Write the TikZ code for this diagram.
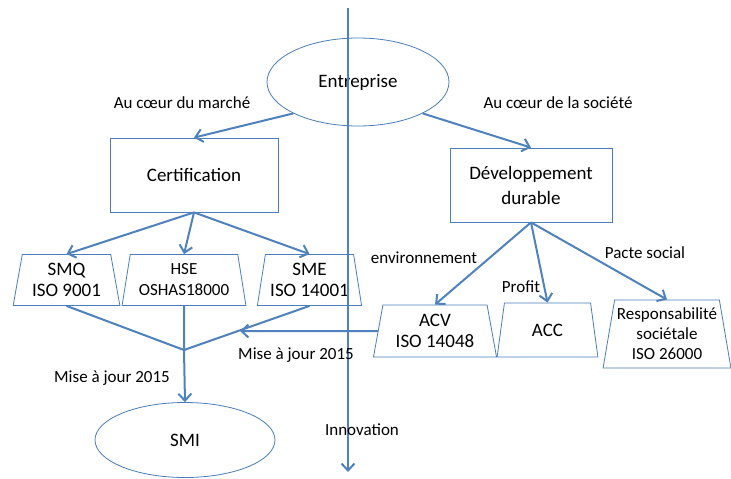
\documentclass[tikz,border=0pt]{standalone}
\usepackage{fontspec}
\setmainfont{Carlito}
\usetikzlibrary{shapes.geometric, arrows.meta}

\definecolor{lineblue}{RGB}{79,129,189}
\definecolor{edgeblue}{RGB}{74,126,187}

\tikzset{
    link/.style = {-{Straight Barb[length = 7pt, width = 13pt]}, line width = 2pt, color = lineblue},
    feed/.style = {line width = 2pt, color = lineblue},
    box/.style = {draw = edgeblue, line width = 0.8pt, rectangle, align = center, font = \fontsize{19}{25}\selectfont},
    oval/.style = {draw = edgeblue, line width = 0.8pt, ellipse, align = center, font = \fontsize{19}{22}\selectfont},
    trap/.style = {draw = edgeblue, line width = 0.8pt, trapezium, trapezium angle = 78, trapezium stretches = true,
        inner sep = 0pt, align = center, font = \fontsize{19}{21}\selectfont},
    lbl/.style = {font = \fontsize{17}{20}\selectfont},
}

\begin{document}
\begin{tikzpicture}[x = 1pt, y = -1pt]
    \useasboundingbox (0, 0) rectangle (731, 479);

    \node[oval, minimum width = 182pt, minimum height = 88pt] (ent) at (358, 82) {Entreprise};
    \node[box, minimum width = 168pt, minimum height = 74pt] (cert) at (194, 175) {Certification};
    \node[box, minimum width = 162pt, minimum height = 74pt] (dev) at (531, 185) {Développement\\durable};

    \node[trap, minimum width = 107pt, minimum height = 51pt] (smq) at (66.5, 280) {SMQ\\ISO 9001};
    \node[trap, minimum width = 124pt, minimum height = 51pt, font = \fontsize{17}{21}\selectfont] (hse) at (184, 280) {HSE\\OSHAS18000};
    \node[trap, minimum width = 105pt, minimum height = 51pt] (sme) at (309.5, 280) {SME\\ISO 14001};

    \node[trap, minimum width = 124pt, minimum height = 52pt] (acv) at (435, 331) {ACV\\ISO 14048};
    \node[trap, minimum width = 101pt, minimum height = 54pt] (acc) at (547.5, 330) {ACC};
    \node[trap, minimum width = 128pt, minimum height = 68pt, font = \fontsize{17}{20}\selectfont] (resp) at (667, 334) {Responsabilité\\sociétale\\ISO 26000};

    \node[oval, minimum width = 180pt, minimum height = 75pt] (smi) at (185, 440) {SMI};

    \coordinate (top) at (348, 8);
    \coordinate (bot) at (348, 472);
    \coordinate (j) at (184, 350);
    \coordinate (upd) at (240, 331);

    \draw[link] (top) -- (bot);

    \draw[link] (ent.south west) -- (cert.north);
    \draw[link] (ent.south east) -- (dev.north);

    \draw[link] (cert.south) -- (smq.north);
    \draw[link] (cert.south) -- (hse.north);
    \draw[link] (cert.south) -- (sme.north);

    \draw[link] (dev.south) -- (acv.north);
    \draw[link] (dev.south) -- (acc.north);
    \draw[link] (dev.south) -- (resp.north);

    \draw[feed] (smq.south) -- (j);
    \draw[feed] (hse.south) -- (j);
    \draw[feed] (sme.south) -- (j);
    \draw[link] (j) -- (smi.north);
    \draw[link] (acv.west) -- (upd);

    \node[lbl] (l1) at (182, 103) {Au cœur du marché};
    \node[lbl] (l2) at (558, 103) {Au cœur de la société};
    \node[lbl] (l3) at (424, 258) {environnement};
    \node[lbl] (l4) at (521, 287) {Profit};
    \node[lbl] (l5) at (645, 253) {Pacte social};
    \node[lbl] (l6) at (296, 355) {Mise à jour 2015};
    \node[lbl] (l7) at (112, 378) {Mise à jour 2015};
    \node[lbl] (l8) at (362, 430) {Innovation};
\end{tikzpicture}
\end{document}
